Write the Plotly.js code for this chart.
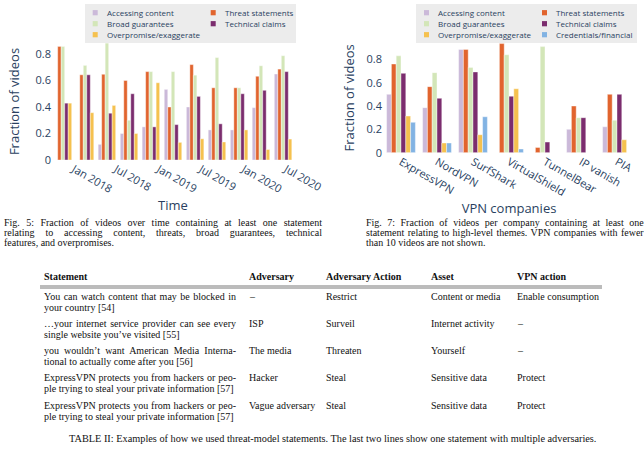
<!DOCTYPE html>
<html><head><meta charset="utf-8">
<script src="https://cdn.plot.ly/plotly-3.0.1.min.js"></script>
<style>html,body{margin:0;padding:0;background:#fff}#chart{width:644px;height:450px}</style>
</head><body><div id="chart"></div>
<script>
// ---------- data: Fig. 5 (over time) ----------
const timeBins = ["2017-11-15","2018-02-18","2018-05-23","2018-08-26","2018-11-28","2019-03-03","2019-06-06","2019-09-08","2019-12-12","2020-03-15","2020-06-18"];
const timeAccessing   = [0, 0, 0.118, 0.2, 0.25, 0.533, 0.4, 0.227, 0.227, 0.395, 0.649];
const timeThreat      = [0.857, 0.643, 0.647, 0.6, 0.667, 0.4, 0.72, 0.545, 0.545, 0.632, 0.686];
const timeBroad       = [0.857, 0.714, 0.882, 0.3, 0.667, 0.667, 0.64, 0.773, 0.545, 0.711, 0.787];
const timeTechnical   = [0.429, 0.643, 0.353, 0.5, 0.25, 0.267, 0.48, 0.273, 0.5, 0.526, 0.667];
const timeOverpromise = [0.429, 0.357, 0.412, 0.2, 0.583, 0.133, 0.16, 0.136, 0.227, 0.079, 0.158];

// ---------- data: Fig. 7 (per company) ----------
const companies     = ["ExpressVPN","NordVPN","SurfShark","VirtualShield","TunnelBear","IP vanish","PIA"];
const coAccessing   = [0.50, 0.386, 0.885, 0, 0, 0.2, 0.222];
const coThreat      = [0.76, 0.566, 0.885, 0.935, 0.045, 0.4, 0.5];
const coBroad       = [0.83, 0.686, 0.731, 0.839, 0.909, 0.3, 0.278];
const coTechnical   = [0.68, 0.466, 0.692, 0.484, 0.091, 0.3, 0.5];
const coOverpromise = [0.314, 0.083, 0.154, 0.548, 0, 0, 0.111];
const coCredentials = [0.26, 0.083, 0.308, 0.032, 0, 0, 0];

const seriesNames = ["Accessing content","Threat statements","Broad guarantees","Technical claims","Overpromise/exaggerate","Credentials/financial"];
const seriesColors = ["#cbb9d9","#e1642e","#d3e6b8","#7b2d6e","#f5c14f","#82b3e3"];
const yTicks = [0, 0.2, 0.4, 0.6, 0.8];

// ---------- data: captions and table ----------
const fig5Caption = ["Fig. 5: Fraction of videos over time containing at least one statement",
  "relating to accessing content, threats, broad guarantees, technical",
  "features, and overpromises."];
const fig7Caption = ["Fig. 7: Fraction of videos per company containing at least one",
  "statement relating to high-level themes. VPN companies with fewer",
  "than 10 videos are not shown."];
const tableHeader = ["Statement","Adversary","Adversary Action","Asset","VPN action"];
const tableStatement = [
  ["You can watch content that may be blocked in","your country [54]"],
  ["\u2026your internet service provider can see every","single website you\u2019ve visited [55]"],
  ["you wouldn\u2019t want American Media Interna-","tional to actually come after you [56]"],
  ["ExpressVPN protects you from hackers or peo-","ple trying to steal your private information [57]"],
  ["ExpressVPN protects you from hackers or peo-","ple trying to steal your private information [57]"]];
const tableAdversary = ["\u2013","ISP","The media","Hacker","Vague adversary"];
const tableAction = ["Restrict","Surveil","Threaten","Steal","Steal"];
const tableAsset = ["Content or media","Internet activity","Yourself","Sensitive data","Sensitive data"];
const tableVpn = ["Enable consumption","\u2013","\u2013","Protect","Protect"];
const tableCaption = "TABLE II: Examples of how we used threat-model statements. The last two lines show one statement with multiple adversaries.";

// ---------- layout helpers ----------
const W = 644, H = 450;
const px = x => x / W, py = y => 1 - y / H;
const ink = "#2a3f5f";
const serif = "Liberation Serif, Times New Roman, serif";

const timeSeries = [timeAccessing, timeThreat, timeBroad, timeTechnical, timeOverpromise];
const coSeries = [coAccessing, coThreat, coBroad, coTechnical, coOverpromise, coCredentials];

const traces = [];
timeSeries.forEach((ys, i) => traces.push({
  type: "bar", x: timeBins, y: ys, name: seriesNames[i], xaxis: "x", yaxis: "y",
  marker: {color: seriesColors[i], line: {color: "#ffffff", width: 0.4}}, showlegend: false, hoverinfo: "skip"
}));
coSeries.forEach((ys, i) => traces.push({
  type: "bar", x: companies, y: ys, name: seriesNames[i], xaxis: "x2", yaxis: "y2",
  marker: {color: seriesColors[i], line: {color: "#ffffff", width: 0.4}}, showlegend: false, hoverinfo: "skip"
}));

const shapes = [], annotations = [], justify = [];
function addText(text, x, y, opts) {
  const a = Object.assign({text: text, x: px(x), y: py(y), xref: "paper", yref: "paper",
    xanchor: "left", yanchor: "middle", align: "left", showarrow: false, borderpad: 0,
    font: {family: serif, size: 10, color: "#111"}}, opts || {});
  annotations.push(a);
  return annotations.length - 1;
}

// custom legends (small swatches like the reference)
const legendSpecs = [
  {box: [85, 4, 296, 43], symX: [92.7, 210.7], txtX: [106, 224], n: 5},
  {box: [416, 4, 637, 43], symX: [424, 542], txtX: [437.3, 555.3], n: 6}];
const legendRows = [12.7, 23.7, 34.7];
legendSpecs.forEach(L => {
  shapes.push({type: "rect", xref: "paper", yref: "paper", x0: px(L.box[0]), x1: px(L.box[2]),
    y0: py(L.box[3]), y1: py(L.box[1]), fillcolor: "#ececec", line: {width: 0}, layer: "above"});
  for (let i = 0; i < L.n; i++) {
    const r = Math.floor(i / 2), c = i % 2, yc = legendRows[r];
    shapes.push({type: "rect", xref: "paper", yref: "paper", x0: px(L.symX[c]), x1: px(L.symX[c] + 5),
      y0: py(yc + 2.6), y1: py(yc - 2.6), fillcolor: seriesColors[i], line: {width: 0}, layer: "above"});
    addText(seriesNames[i], L.txtX[c], yc, {font: {family: "Open Sans", size: 8, color: ink}});
  }
});

// captions
const capRows = [222, 232.3, 242.7];
fig5Caption.forEach((t, i) => { const k = addText(t, 2.7, capRows[i]); if (i < 2) justify.push([k, 318]); });
fig7Caption.forEach((t, i) => { const k = addText(t, 365, capRows[i]); if (i < 2) justify.push([k, 277.7]); });

// table
const colX = [43, 248, 325, 430, 516];
tableHeader.forEach((t, j) => addText("<b>" + t + "</b>", colX[j], 276.5));
shapes.push({type: "line", xref: "paper", yref: "paper", x0: px(40), x1: px(602), y0: py(286), y1: py(286), line: {color: "#555", width: 0.8}});
shapes.push({type: "line", xref: "paper", yref: "paper", x0: px(40), x1: px(602), y0: py(288), y1: py(288), line: {color: "#555", width: 0.8}});
const rowY = [296, 323.3, 350.5, 377.8, 405];
for (let i = 0; i < 5; i++) {
  const k = addText(tableStatement[i][0], colX[0], rowY[i]); justify.push([k, 192]);
  addText(tableStatement[i][1], colX[0], rowY[i] + 11);
  addText(tableAdversary[i], colX[1], rowY[i]);
  addText(tableAction[i], colX[2], rowY[i]);
  addText(tableAsset[i], colX[3], rowY[i]);
  addText(tableVpn[i], colX[4], rowY[i]);
}
addText(tableCaption, 332, 438, {xanchor: "center", align: "center", font: {family: serif, size: 10.3, color: "#111"}});

const axisFont = {family: "Open Sans", size: 11, color: ink};
const layout = {
  width: W, height: H, margin: {l: 0, r: 0, t: 0, b: 0},
  paper_bgcolor: "#ffffff", plot_bgcolor: "#ffffff",
  font: {family: "Open Sans", color: ink},
  barmode: "group", bargap: 0.2, bargroupgap: 0, showlegend: false,
  xaxis: {domain: [px(52), px(294)], anchor: "y", type: "date", tickangle: 30,
    dtick: "M6", tick0: "2018-01-01", tickformat: "%b %Y", showgrid: false, zeroline: false,
    ticks: "", tickfont: axisFont, title: {text: "Time", font: {family: "Open Sans", size: 13, color: ink}, standoff: 2}},
  yaxis: {domain: [py(160), py(43)], anchor: "x", range: [0, 0.883], tickvals: yTicks,
    showgrid: false, zeroline: false, ticks: "", tickfont: axisFont,
    title: {text: "Fraction of videos", font: {family: "Open Sans", size: 13, color: ink}, standoff: 12}},
  xaxis2: {domain: [px(383), px(635)], anchor: "y2", type: "category", tickangle: 30,
    showgrid: false, zeroline: false, ticks: "", tickfont: axisFont,
    title: {text: "VPN companies", font: {family: "Open Sans", size: 13, color: ink}, standoff: 0}},
  yaxis2: {domain: [py(152.7), py(43)], anchor: "x2", range: [0, 0.94], tickvals: yTicks,
    showgrid: false, zeroline: false, ticks: "", tickfont: axisFont,
    title: {text: "Fraction of videos", font: {family: "Open Sans", size: 13, color: ink}, standoff: 8}},
  shapes: shapes, annotations: annotations
};

Plotly.newPlot("chart", traces, layout, {staticPlot: true}).then(gd => {
  // emulate justified (LaTeX-style) text lines by widening the word spacing
  const groups = Array.from(gd.querySelectorAll(".annotation"));
  justify.forEach(([idx, target]) => {
    const g = groups.find(e => e.getAttribute("data-index") == String(idx));
    if (!g) return;
    const t = g.querySelector(".annotation-text");
    if (!t) return;
    const len = t.getComputedTextLength();
    const spaces = (t.textContent.match(/ /g) || []).length;
    if (spaces > 0 && target > len) {
      t.setAttribute("text-anchor", "start");
      t.setAttribute("word-spacing", ((target - len) / spaces).toFixed(2));
    }
  });
});
</script></body></html>
